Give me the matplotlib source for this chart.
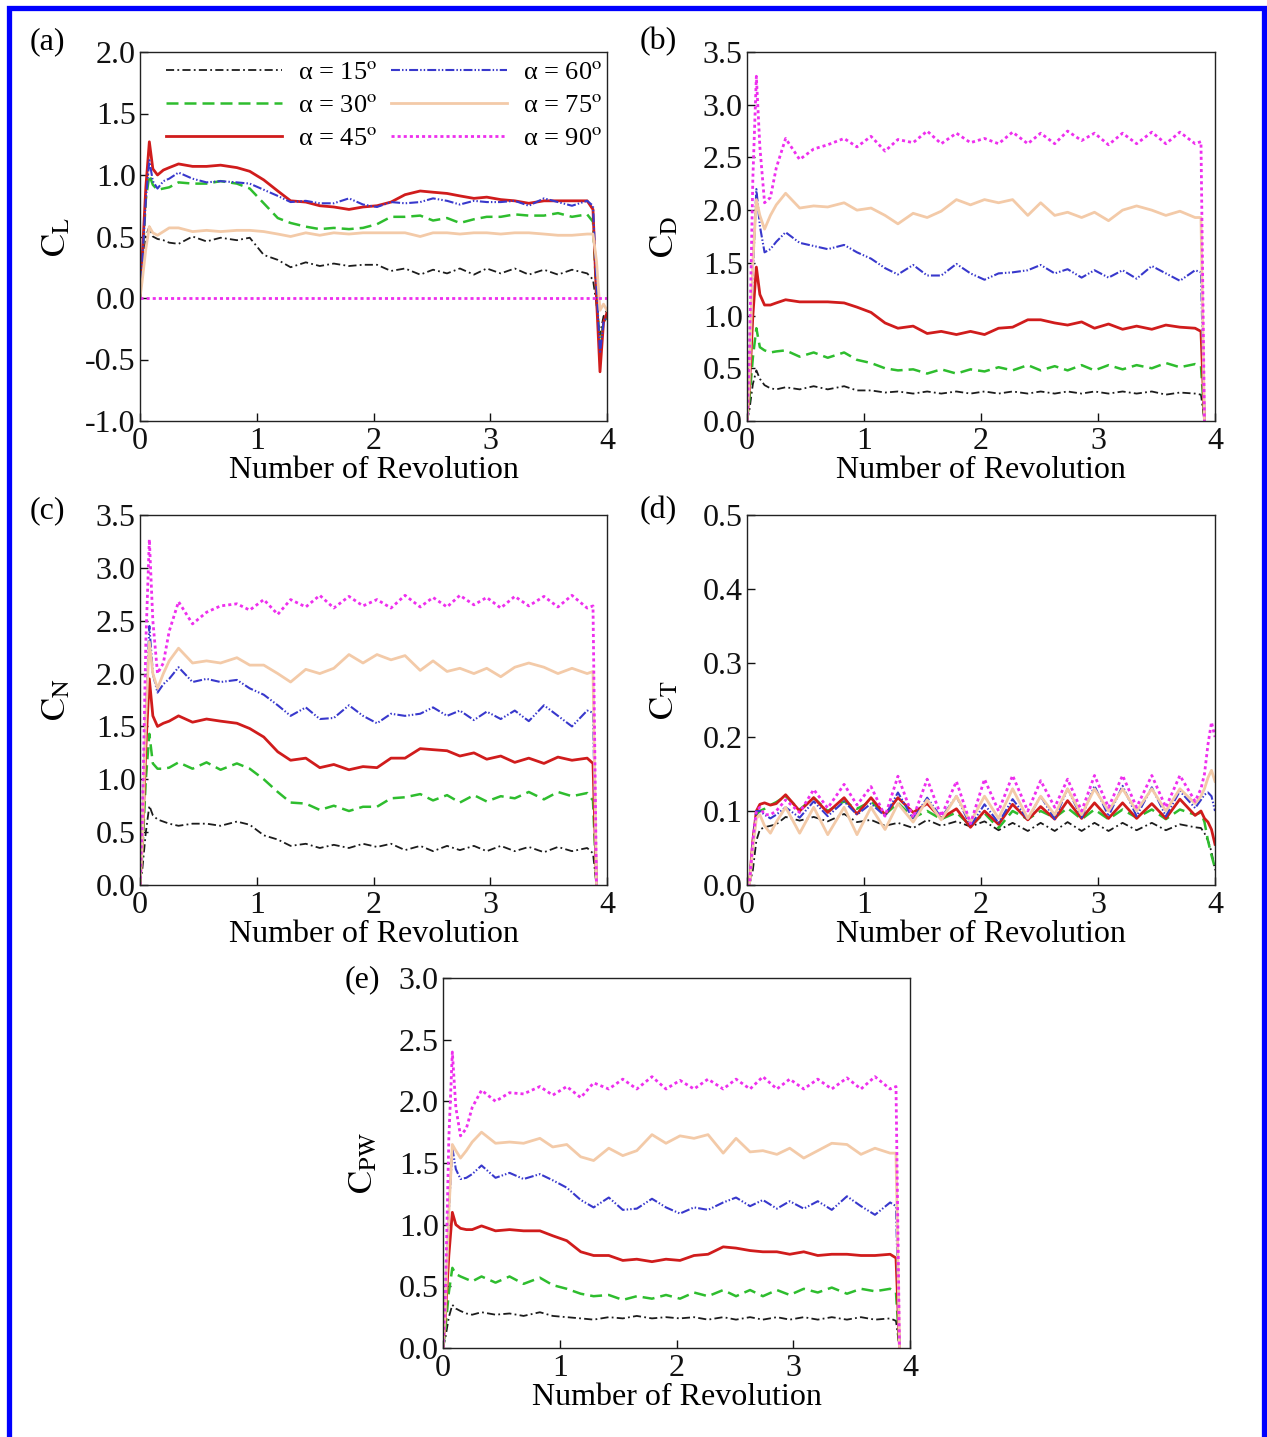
import numpy as np
import matplotlib
matplotlib.use('Agg')
import matplotlib.pyplot as plt
from matplotlib.lines import Line2D

plt.rcParams['font.family'] = ['Liberation Serif', 'DejaVu Serif']
plt.rcParams['mathtext.fontset'] = 'stix'
plt.rcParams['axes.unicode_minus'] = False

N = None

# Number of revolutions (shared sample positions)
rev = [0.0, 0.02, 0.05, 0.08, 0.11, 0.15, 0.2, 0.25,
       0.33, 0.45, 0.57, 0.69, 0.83, 0.94, 1.06, 1.18, 1.29, 1.42,
       1.54, 1.66, 1.79, 1.91, 2.03, 2.15, 2.27, 2.4, 2.51, 2.63,
       2.74, 2.86, 2.97, 3.09, 3.21, 3.33, 3.46, 3.58, 3.7, 3.83,
       3.88, 3.91, 3.94, 3.97, 4.0]

labels = ['α = 15$^{\\mathrm{o}}$', 'α = 30$^{\\mathrm{o}}$', 'α = 45$^{\\mathrm{o}}$',
          'α = 60$^{\\mathrm{o}}$', 'α = 75$^{\\mathrm{o}}$', 'α = 90$^{\\mathrm{o}}$']

# ---------------- (a) lift coefficient ----------------
cl15 = [0, 0.2, 0.5, 0.58, 0.5, 0.48, 0.47, 0.45,
        0.44, 0.5, 0.46, 0.49, 0.47, 0.49, 0.35, 0.31, 0.25, 0.29,
        0.26, 0.28, 0.26, 0.27, 0.27, 0.22, 0.24, 0.19, 0.23, 0.2,
        0.24, 0.19, 0.24, 0.2, 0.24, 0.19, 0.23, 0.19, 0.23, 0.2,
        0.15, -0.05, -0.3, -0.15, -0.1]
cl30 = [0, 0.3, 0.8, 1.0, 0.92, 0.88, 0.89, 0.9,
        0.94, 0.93, 0.93, 0.95, 0.93, 0.89, 0.77, 0.65, 0.61, 0.58,
        0.56, 0.57, 0.56, 0.57, 0.6, 0.66, 0.66, 0.67, 0.63, 0.65,
        0.61, 0.64, 0.66, 0.66, 0.68, 0.67, 0.67, 0.69, 0.66, 0.68,
        0.62, 0.0, -0.4, -0.2, -0.15]
cl45 = [0, 0.35, 0.9, 1.27, 1.05, 1.0, 1.04, 1.06,
        1.09, 1.07, 1.07, 1.08, 1.06, 1.03, 0.96, 0.87, 0.79, 0.78,
        0.75, 0.74, 0.72, 0.74, 0.75, 0.78, 0.84, 0.87, 0.86, 0.85,
        0.83, 0.81, 0.82, 0.8, 0.79, 0.77, 0.79, 0.79, 0.79, 0.79,
        0.72, 0.0, -0.6, -0.2, -0.12]
cl60 = [0, 0.3, 0.8, 1.12, 0.95, 0.89, 0.95, 0.97,
        1.02, 0.97, 0.94, 0.95, 0.94, 0.93, 0.88, 0.83, 0.78, 0.79,
        0.77, 0.77, 0.81, 0.76, 0.74, 0.78, 0.77, 0.78, 0.81, 0.79,
        0.76, 0.79, 0.78, 0.78, 0.79, 0.75, 0.81, 0.78, 0.75, 0.79,
        0.75, 0.1, -0.45, -0.2, -0.15]
cl75 = [0, 0.15, 0.4, 0.58, 0.53, 0.51, 0.54, 0.57,
        0.57, 0.54, 0.55, 0.54, 0.55, 0.55, 0.54, 0.52, 0.5, 0.53,
        0.51, 0.53, 0.52, 0.53, 0.53, 0.53, 0.53, 0.5, 0.53, 0.53,
        0.52, 0.53, 0.53, 0.52, 0.53, 0.53, 0.52, 0.51, 0.51, 0.52,
        0.52, 0.3, -0.1, -0.05, -0.1]
cl90 = [0, 0, 0, 0, 0, 0, 0, 0,
        0, 0, 0, 0, 0, 0, 0, 0, 0, 0,
        0, 0, 0, 0, 0, 0, 0, 0, 0, 0,
        0, 0, 0, 0, 0, 0, 0, 0, 0, 0,
        0, 0, 0, 0, 0]

# ---------------- (b) drag coefficient ----------------
cd15 = [0, 0.1, 0.35, 0.48, 0.4, 0.34, 0.31, 0.3,
        0.32, 0.3, 0.33, 0.3, 0.33, 0.29, 0.29, 0.27, 0.28, 0.26,
        0.28, 0.26, 0.28, 0.26, 0.28, 0.26, 0.28, 0.26, 0.28, 0.26,
        0.28, 0.26, 0.28, 0.26, 0.28, 0.26, 0.28, 0.25, 0.27, 0.26,
        0.25, 0.0, N, N, N]
cd30 = [0, 0.2, 0.6, 0.88, 0.7, 0.67, 0.65, 0.66,
        0.67, 0.61, 0.65, 0.6, 0.65, 0.58, 0.55, 0.5, 0.48, 0.49,
        0.45, 0.49, 0.45, 0.49, 0.47, 0.51, 0.48, 0.53, 0.48, 0.52,
        0.48, 0.53, 0.48, 0.53, 0.49, 0.53, 0.5, 0.55, 0.51, 0.54,
        0.52, 0.0, N, N, N]
cd45 = [0, 0.3, 1.0, 1.46, 1.2, 1.1, 1.1, 1.12,
        1.15, 1.13, 1.13, 1.13, 1.12, 1.08, 1.03, 0.93, 0.88, 0.9,
        0.83, 0.85, 0.82, 0.85, 0.82, 0.88, 0.89, 0.96, 0.96, 0.93,
        0.91, 0.94, 0.88, 0.92, 0.87, 0.9, 0.87, 0.91, 0.89, 0.88,
        0.85, 0.0, N, N, N]
cd60 = [0, 0.4, 1.4, 2.2, 1.85, 1.6, 1.63, 1.7,
        1.79, 1.69, 1.66, 1.63, 1.67, 1.6, 1.54, 1.45, 1.39, 1.48,
        1.38, 1.38, 1.49, 1.4, 1.34, 1.4, 1.41, 1.43, 1.48, 1.4,
        1.44, 1.36, 1.43, 1.36, 1.43, 1.35, 1.47, 1.4, 1.33, 1.43,
        1.41, 0.0, N, N, N]
cd75 = [0, 0.4, 1.5, 2.1, 1.95, 1.82, 1.95, 2.05,
        2.16, 2.02, 2.04, 2.03, 2.07, 2.0, 2.02, 1.95, 1.87, 1.97,
        1.93, 1.99, 2.1, 2.05, 2.1, 2.07, 2.1, 1.95, 2.07, 1.95,
        1.98, 1.93, 1.98, 1.9, 2.0, 2.04, 2.0, 1.95, 1.99, 1.93,
        1.93, 0.0, N, N, N]
cd90 = [0, 0.6, 2.3, 3.27, 2.6, 2.07, 2.12, 2.4,
        2.68, 2.48, 2.58, 2.62, 2.68, 2.6, 2.7, 2.56, 2.67, 2.64,
        2.75, 2.63, 2.73, 2.64, 2.68, 2.63, 2.74, 2.63, 2.73, 2.63,
        2.75, 2.66, 2.73, 2.62, 2.73, 2.63, 2.74, 2.63, 2.74, 2.63,
        2.65, 0.0, N, N, N]

# ---------------- (c) normal force coefficient ----------------
cn15 = [0, 0.15, 0.5, 0.75, 0.66, 0.62, 0.6, 0.58,
        0.56, 0.58, 0.58, 0.56, 0.6, 0.57, 0.47, 0.43, 0.37, 0.39,
        0.35, 0.38, 0.35, 0.39, 0.36, 0.39, 0.33, 0.37, 0.32, 0.37,
        0.33, 0.37, 0.32, 0.37, 0.32, 0.36, 0.31, 0.36, 0.32, 0.35,
        0.3, 0.0, N, N, N]
cn30 = [0, 0.3, 1.0, 1.43, 1.15, 1.1, 1.1, 1.11,
        1.16, 1.1, 1.16, 1.09, 1.15, 1.1, 1.0, 0.88, 0.78, 0.77,
        0.71, 0.75, 0.7, 0.74, 0.74, 0.82, 0.83, 0.86, 0.8, 0.85,
        0.78, 0.85, 0.79, 0.84, 0.82, 0.88, 0.81, 0.88, 0.84, 0.87,
        0.8, 0.0, N, N, N]
cn45 = [0, 0.4, 1.3, 1.95, 1.6, 1.5, 1.53, 1.55,
        1.6, 1.54, 1.57, 1.55, 1.53, 1.48, 1.4, 1.26, 1.18, 1.2,
        1.11, 1.14, 1.09, 1.12, 1.11, 1.2, 1.2, 1.29, 1.28, 1.27,
        1.22, 1.25, 1.19, 1.22, 1.16, 1.2, 1.15, 1.21, 1.18, 1.2,
        1.15, 0.0, N, N, N]
cn60 = [0, 0.5, 1.6, 2.45, 2.0, 1.82, 1.9, 1.95,
        2.06, 1.92, 1.95, 1.92, 1.94, 1.86, 1.8, 1.7, 1.6, 1.68,
        1.57, 1.58, 1.7, 1.6, 1.53, 1.62, 1.6, 1.62, 1.68, 1.6,
        1.65, 1.56, 1.64, 1.57, 1.65, 1.55, 1.7, 1.6, 1.5, 1.65,
        1.63, 0.0, N, N, N]
cn75 = [0, 0.4, 1.6, 2.3, 2.0, 1.86, 2.0, 2.12,
        2.24, 2.1, 2.12, 2.1, 2.15, 2.08, 2.08, 2.0, 1.92, 2.04,
        2.0, 2.05, 2.18, 2.1, 2.18, 2.13, 2.17, 2.03, 2.12, 2.02,
        2.05, 2.0, 2.05, 1.97, 2.06, 2.1, 2.06, 2.0, 2.05, 2.0,
        2.02, 0.0, N, N, N]
cn90 = [0, 0.6, 2.3, 3.27, 2.5, 2.0, 2.1, 2.4,
        2.68, 2.47, 2.58, 2.64, 2.66, 2.6, 2.7, 2.56, 2.7, 2.63,
        2.74, 2.62, 2.73, 2.64, 2.7, 2.62, 2.74, 2.63, 2.72, 2.63,
        2.74, 2.65, 2.72, 2.62, 2.73, 2.64, 2.73, 2.63, 2.74, 2.62,
        2.64, 0.0, N, N, N]

# ---------------- (d) tangential force coefficient ----------------
ct15 = [0, 0, 0.02, 0.06, 0.075, 0.078, 0.08, 0.082,
        0.092, 0.087, 0.092, 0.086, 0.096, 0.085, 0.088, 0.08, 0.084, 0.077,
        0.088, 0.08, 0.086, 0.079, 0.086, 0.074, 0.084, 0.073, 0.084, 0.073,
        0.085, 0.073, 0.084, 0.073, 0.084, 0.074, 0.084, 0.074, 0.082, 0.078,
        0.077, 0.07, 0.06, 0.045, 0.02]
ct30 = [0, 0, 0.055, 0.095, 0.1, 0.103, 0.108, 0.112,
        0.12, 0.102, 0.118, 0.1, 0.113, 0.103, 0.113, 0.095, 0.111, 0.091,
        0.1, 0.089, 0.098, 0.08, 0.097, 0.077, 0.1, 0.089, 0.1, 0.091,
        0.104, 0.089, 0.102, 0.089, 0.102, 0.091, 0.102, 0.089, 0.102, 0.095,
        0.098, 0.085, 0.06, 0.04, 0.023]
ct45 = [0, 0, 0.06, 0.1, 0.109, 0.111, 0.108, 0.11,
        0.122, 0.1, 0.118, 0.098, 0.118, 0.096, 0.118, 0.095, 0.118, 0.098,
        0.11, 0.09, 0.103, 0.078, 0.1, 0.082, 0.109, 0.088, 0.106, 0.089,
        0.114, 0.09, 0.111, 0.09, 0.111, 0.09, 0.11, 0.09, 0.116, 0.094,
        0.1, 0.09, 0.085, 0.075, 0.055]
ct60 = [0, 0, 0.06, 0.1, 0.1, 0.095, 0.09, 0.095,
        0.105, 0.091, 0.113, 0.093, 0.113, 0.095, 0.11, 0.093, 0.125, 0.089,
        0.118, 0.091, 0.12, 0.08, 0.109, 0.084, 0.116, 0.089, 0.12, 0.089,
        0.13, 0.091, 0.134, 0.093, 0.134, 0.093, 0.132, 0.093, 0.127, 0.104,
        0.115, 0.122, 0.125, 0.12, 0.1]
ct75 = [0, 0, 0.05, 0.09, 0.095, 0.08, 0.07, 0.085,
        0.105, 0.07, 0.105, 0.068, 0.105, 0.068, 0.105, 0.075, 0.11, 0.085,
        0.115, 0.088, 0.12, 0.085, 0.12, 0.09, 0.13, 0.09, 0.12, 0.095,
        0.13, 0.095, 0.13, 0.1, 0.13, 0.1, 0.13, 0.1, 0.13, 0.11,
        0.12, 0.13, 0.145, 0.155, 0.14]
ct90 = [0, 0, 0.06, 0.1, 0.105, 0.095, 0.095, 0.1,
        0.115, 0.098, 0.129, 0.104, 0.136, 0.108, 0.133, 0.093, 0.147, 0.091,
        0.143, 0.093, 0.14, 0.083, 0.143, 0.1, 0.148, 0.1, 0.141, 0.105,
        0.143, 0.1, 0.148, 0.105, 0.148, 0.105, 0.148, 0.105, 0.148, 0.113,
        0.13, 0.15, 0.19, 0.22, 0.2]

# ---------------- (e) power coefficient ----------------
cp15 = [0, 0.08, 0.25, 0.35, 0.32, 0.3, 0.28, 0.27,
        0.29, 0.27, 0.28, 0.26, 0.29, 0.26, 0.25, 0.24, 0.23, 0.25,
        0.24, 0.26, 0.24, 0.25, 0.24, 0.25, 0.23, 0.25, 0.23, 0.25,
        0.23, 0.25, 0.23, 0.25, 0.23, 0.25, 0.23, 0.25, 0.23, 0.24,
        0.22, 0.0, N, N, N]
cp30 = [0, 0.15, 0.45, 0.65, 0.6, 0.58, 0.56, 0.54,
        0.58, 0.53, 0.58, 0.52, 0.57, 0.51, 0.48, 0.44, 0.42, 0.43,
        0.39, 0.42, 0.4, 0.43, 0.4, 0.45, 0.42, 0.47, 0.42, 0.47,
        0.42, 0.47, 0.43, 0.48, 0.45, 0.49, 0.44, 0.48, 0.46, 0.48,
        0.45, 0.0, N, N, N]
cp45 = [0, 0.25, 0.75, 1.1, 1.0, 0.97, 0.96, 0.96,
        0.99, 0.95, 0.96, 0.95, 0.95, 0.91, 0.87, 0.78, 0.75, 0.75,
        0.71, 0.72, 0.7, 0.72, 0.71, 0.75, 0.76, 0.82, 0.81, 0.79,
        0.78, 0.78, 0.76, 0.78, 0.75, 0.76, 0.76, 0.75, 0.75, 0.76,
        0.73, 0.0, N, N, N]
cp60 = [0, 0.3, 1.1, 1.62, 1.45, 1.37, 1.38, 1.41,
        1.48, 1.38, 1.42, 1.37, 1.41, 1.36, 1.3, 1.2, 1.14, 1.22,
        1.12, 1.13, 1.21, 1.14, 1.09, 1.14, 1.12, 1.18, 1.22, 1.15,
        1.2, 1.13, 1.19, 1.13, 1.19, 1.12, 1.23, 1.15, 1.08, 1.18,
        1.15, 0.0, N, N, N]
cp75 = [0, 0.3, 1.1, 1.65, 1.6, 1.54, 1.6, 1.67,
        1.75, 1.66, 1.67, 1.66, 1.7, 1.63, 1.65, 1.55, 1.52, 1.62,
        1.56, 1.6, 1.73, 1.66, 1.72, 1.7, 1.73, 1.58, 1.7, 1.59,
        1.6, 1.57, 1.62, 1.54, 1.6, 1.66, 1.65, 1.57, 1.62, 1.58,
        1.58, 0.0, N, N, N]
cp90 = [0, 0.4, 1.7, 2.4, 1.95, 1.72, 1.78, 1.95,
        2.09, 2.0, 2.07, 2.06, 2.12, 2.05, 2.12, 2.03, 2.15, 2.1,
        2.18, 2.1, 2.2, 2.1, 2.17, 2.1, 2.18, 2.1, 2.18, 2.1,
        2.2, 2.1, 2.18, 2.1, 2.18, 2.1, 2.19, 2.1, 2.2, 2.1,
        2.12, 0.0, N, N, N]

y_ticks_a = [-1.0, -0.5, 0.0, 0.5, 1.0, 1.5, 2.0]
y_ticks_bc = [0.0, 0.5, 1.0, 1.5, 2.0, 2.5, 3.0, 3.5]
y_ticks_d = [0.0, 0.1, 0.2, 0.3, 0.4, 0.5]
y_ticks_e = [0.0, 0.5, 1.0, 1.5, 2.0, 2.5, 3.0]
x_ticks = [0, 1, 2, 3, 4]

# ---------------- figure ----------------
W, H = 1267, 1437
fig = plt.figure(figsize=(W / 100, H / 100), dpi=100)

styles = [
    dict(color='#1c1c1c', lw=1.3, dashes=(4.5, 1.8, 1.0, 1.8)),
    dict(color='#2ebd2e', lw=1.8, dashes=(4.8, 2.4)),
    dict(color='#d01c1c', lw=2.0, ls='-'),
    dict(color='#3838cc', lw=1.5, dashes=(4.3, 1.0, 0.7, 1.0, 0.7, 1.0)),
    dict(color='#f3caa8', lw=2.0, ls='-'),
    dict(color='#ee2fee', lw=2.0, dashes=(1.1, 1.1)),
]

panels = [
    dict(box=(140, 52, 607, 421), data=[cl15, cl30, cl45, cl60, cl75, cl90],
         ylim=(-1.0, 2.0), yticks=y_ticks_a, ylabel=r'$\mathrm{C_L}$', tag='(a)', tagpos=(30, 42),
         ylx=-0.142),
    dict(box=(747, 52, 1215, 421), data=[cd15, cd30, cd45, cd60, cd75, cd90],
         ylim=(0.0, 3.5), yticks=y_ticks_bc, ylabel=r'$\mathrm{C_D}$', tag='(b)', tagpos=(640, 42),
         ylx=-0.140),
    dict(box=(140, 515, 607, 885), data=[cn15, cn30, cn45, cn60, cn75, cn90],
         ylim=(0.0, 3.5), yticks=y_ticks_bc, ylabel=r'$\mathrm{C_N}$', tag='(c)', tagpos=(30, 511),
         ylx=-0.142),
    dict(box=(747, 515, 1215, 885), data=[ct15, ct30, ct45, ct60, ct75, ct90],
         ylim=(0.0, 0.5), yticks=y_ticks_d, ylabel=r'$\mathrm{C_T}$', tag='(d)', tagpos=(640, 511),
         ylx=-0.140),
    dict(box=(443, 978, 910, 1348), data=[cp15, cp30, cp45, cp60, cp75, cp90],
         ylim=(0.0, 3.0), yticks=y_ticks_e, ylabel=r'$\mathrm{C_{PW}}$', tag='(e)', tagpos=(345, 980),
         ylx=-0.135),
]

x = np.array(rev, dtype=float)
for k, p in enumerate(panels):
    l, t, r, b = p['box']
    ax = fig.add_axes([l / W, 1 - b / H, (r - l) / W, (b - t) / H])
    handles = []
    for series, st, lab in zip(p['data'], styles, labels):
        y = np.array(series, dtype=float)
        h, = ax.plot(x, y, label=lab, **st)
        handles.append(h)
    ax.set_xlim(0, 4)
    ax.set_ylim(*p['ylim'])
    ax.set_xticks(x_ticks)
    ax.set_xticklabels([str(v) for v in x_ticks])
    ax.set_yticks(p['yticks'])
    ax.set_yticklabels(['%.1f' % v for v in p['yticks']])
    ax.tick_params(direction='in', length=6, width=1.0, labelsize=23,
                   top=False, right=False, colors='#111111')
    ax.tick_params(axis='y', pad=3)
    ax.tick_params(axis='x', pad=4)
    for s in ax.spines.values():
        s.set_linewidth(1.0)
        s.set_color('#222222')
    ax.set_xlabel('Number of Revolution', fontsize=23)
    ax.xaxis.set_label_coords(0.5, -0.095)
    ax.set_ylabel(p['ylabel'], fontsize=25)
    ax.yaxis.set_label_coords(p['ylx'], 0.5)
    fig.text(p['tagpos'][0] / W, 1 - p['tagpos'][1] / H, p['tag'], fontsize=23,
             ha='left', va='center')
    if k == 0:
        ax.legend(handles=handles, ncol=2, loc='upper left', bbox_to_anchor=(0.045, 0.99),
                  frameon=False, fontsize=19, handlelength=4.4, handletextpad=0.6,
                  columnspacing=0.5, labelspacing=0.36, borderaxespad=0.0, borderpad=0.2)

# blue frame around the figure (open at the bottom)
bx0, bx1, by = 9 / W, 1264 / W, 1 - 7.5 / H
fig.add_artist(Line2D([bx0, bx0, bx1, bx1], [0, by, by, 0], transform=fig.transFigure,
                      color='#0000ff', lw=3.8, solid_joinstyle='miter'))

fig.savefig('out.png', dpi=100)
